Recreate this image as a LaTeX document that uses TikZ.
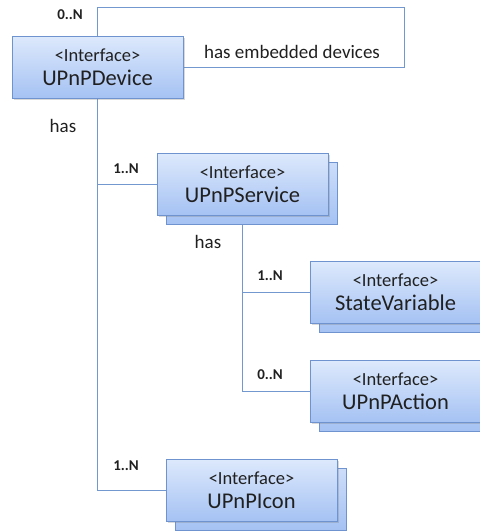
\documentclass[tikz,border=0pt]{standalone}
\usepackage{fontspec}
\setmainfont{Carlito}
\usetikzlibrary{shadows,backgrounds}

\definecolor{umlline}{HTML}{7397CF}
\definecolor{umltop}{HTML}{DDE9FC}
\definecolor{umlbot}{HTML}{A5C2F3}
\definecolor{umledge}{HTML}{6F93CF}
\definecolor{umltext}{HTML}{202020}

\tikzset{iface/.style = {draw=umledge, top color=umltop, bottom color=umlbot,
                         minimum width=171pt, minimum height=62pt, align=center,
                         inner sep=0pt, text=umltext, line width=0.8pt,
                         font=\fontsize{22.5}{24}\selectfont,
                         drop shadow={shadow xshift=1.5pt, shadow yshift=-1.5pt, opacity=0.3}},
         stacked/.style = {copy shadow={shadow xshift=9pt, shadow yshift=-9pt, draw=umledge,
                          top color=umltop!70!umlbot, bottom color=umlbot, line width=0.8pt}},
         link/.style = {draw=umlline, line width=0.9pt},
         mult/.style = {font=\bfseries\fontsize{15}{17}\selectfont, text=umltext},
         role/.style = {font=\fontsize{19}{22}\selectfont, text=umltext}
        }
\newcommand{\iftext}[1]{{\fontsize{18.5}{22}\selectfont<Interface>}\\#1}

\begin{document}
\begin{tikzpicture}[x=1pt, y=-1pt]
  \useasboundingbox (0,0) rectangle (480,531);
  \node[stacked, iface] (svc) at (242.5, 184.5) {\iftext{UPnPService}};
  \node[stacked, iface] (var) at (395.5, 292.5) {\iftext{StateVariable}};
  \node[stacked, iface] (act) at (395.5, 391.5) {\iftext{UPnPAction}};
  \node[stacked, iface] (icon) at (251.5, 490) {\iftext{UPnPIcon}};
  \node[iface] (dev) at (97.5, 67) {\iftext{UPnPDevice}};
  \coordinate (loop) at (404, 7);
  \begin{scope}[on background layer]
    \draw[link] (dev.north) |- (loop) |- (dev.east);
    \draw[link] (dev.south) |- (icon.west);
    \draw[link] (dev.south |- svc.west) -- (svc.west);
    \draw[link] (svc.south) |- (act.west);
    \draw[link] (svc.south |- var.west) -- (var.west);
  \end{scope}
  % labels
  \node[role] (embed) at (292, 52) {has embedded devices};
  \node[role] (hasdev) at (63, 126) {has};
  \node[role] (hassvc) at (208, 242) {has};
  \node[mult] (mdev) at (70, 15) {0..N};
  \node[mult] (msvc) at (126, 169) {1..N};
  \node[mult] (mvar) at (270, 276) {1..N};
  \node[mult] (mact) at (270, 375) {0..N};
  \node[mult] (micon) at (126, 466) {1..N};
\end{tikzpicture}
\end{document}
